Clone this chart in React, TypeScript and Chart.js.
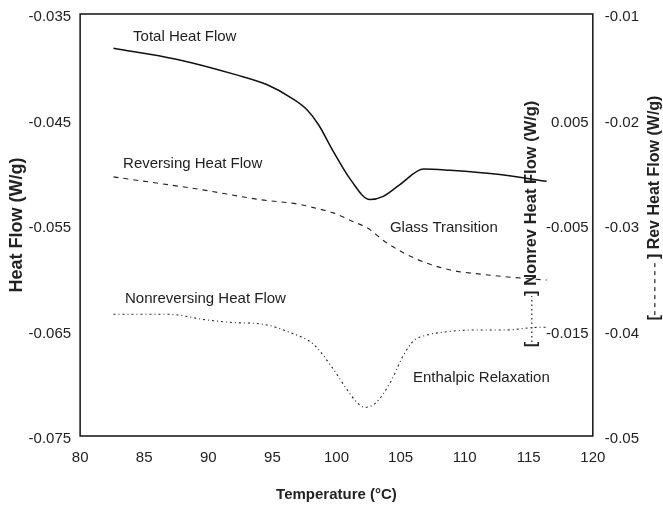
import React, { useEffect, useRef } from "react";
import { Chart, registerables } from "chart.js";
Chart.register(...registerables);

const FONT = '"Liberation Sans", Arial, sans-serif';

// Temperature (°C) samples and values
const totalTemp = [82.6, 87.5, 92.2, 94.6, 96.5, 97.7, 98.6, 99.75, 101.1, 102.6, 103.65, 104.95, 106.8, 108.85, 112.75, 116.4];
const totalHeatFlow = [-0.03824, -0.03928, -0.04077, -0.04171, -0.04297, -0.04408, -0.0455, -0.04802, -0.0507, -0.05259, -0.05228, -0.05117, -0.04969, -0.04982, -0.05022, -0.05086];

const revTemp = [82.6, 89.4, 94.0, 97.2, 98.2, 99.75, 101.4, 102.4, 103.9, 106.3, 108.9, 111.4, 114.0, 116.4];
const revHeatFlow = [-0.02544, -0.02664, -0.02759, -0.02806, -0.02835, -0.02885, -0.02973, -0.03026, -0.03168, -0.03326, -0.03427, -0.03468, -0.03499, -0.03522];

const nonrevTemp = [82.6, 86.8, 89.9, 92.0, 94.3, 96.4, 98.2, 99.75, 100.8, 101.6, 102.2, 103.1, 104.2, 105.2, 106.0, 107.0, 108.1, 110.7, 113.3, 115.3, 116.4];
const nonrevHeatFlow = [-0.01346, -0.01346, -0.014, -0.01425, -0.01441, -0.0152, -0.0163, -0.01866, -0.02056, -0.02182, -0.02228, -0.02182, -0.01992, -0.01741, -0.01599, -0.01545, -0.01519, -0.01495, -0.01495, -0.01472, -0.01469];

const xTicks = [80, 85, 90, 95, 100, 105, 110, 115, 120];
const leftTicks = [-0.075, -0.065, -0.055, -0.045, -0.035];
const nonrevTickLabels = ["-0.015", "-0.005", "0.005"];
const revTicks = [-0.05, -0.04, -0.03, -0.02, -0.01];

const annotationTexts = ["Total Heat Flow", "Reversing Heat Flow", "Nonreversing Heat Flow", "Glass Transition", "Enthalpic Relaxation"];
const annotationT = [84.13, 83.35, 83.5, 104.17, 105.97];
const annotationV = [-0.03717, -0.04918, -0.06204, -0.05524, -0.06951];

const toXY = (xs: number[], ys: number[]) => xs.map((x, i) => ({ x, y: ys[i] }));

function drawRotatedTitle(ctx: CanvasRenderingContext2D, cx: number, cy: number, size: number, text: string, dash: number[], len: number) {
  ctx.save();
  ctx.translate(cx, cy);
  ctx.rotate(-Math.PI / 2);
  ctx.font = `bold ${size}px ${FONT}`;
  ctx.fillStyle = "#222";
  ctx.strokeStyle = "#222";
  ctx.textBaseline = "middle";
  ctx.textAlign = "left";
  const wo = ctx.measureText("[").width;
  const wc = ctx.measureText("]").width;
  const gap = ctx.measureText(" ").width;
  const wt = ctx.measureText(text).width;
  const total = wo + len + wc + gap + wt;
  let x = -total / 2;
  ctx.fillText("[", x, 0);
  x += wo;
  ctx.beginPath();
  ctx.lineWidth = 1.2;
  ctx.setLineDash(dash);
  ctx.moveTo(x, 0);
  ctx.lineTo(x + len, 0);
  ctx.stroke();
  ctx.setLineDash([]);
  x += len;
  ctx.fillText("]", x, 0);
  x += wc + gap;
  ctx.fillText(text, x, 0);
  ctx.restore();
}

const decorPlugin = {
  id: "decor",
  afterDraw(chart: any) {
    const { ctx, chartArea, scales } = chart;
    ctx.save();
    ctx.strokeStyle = "#111";
    ctx.lineWidth = 1.5;
    ctx.strokeRect(chartArea.left, chartArea.top, chartArea.right - chartArea.left, chartArea.bottom - chartArea.top);
    ctx.font = `15px ${FONT}`;
    ctx.fillStyle = "#222";
    ctx.textAlign = "left";
    ctx.textBaseline = "middle";
    annotationTexts.forEach((t, i) => {
      ctx.fillText(t, scales.x.getPixelForValue(annotationT[i]), scales.y.getPixelForValue(annotationV[i]));
    });
    ctx.restore();
    const midY = (chartArea.top + chartArea.bottom) / 2;
    drawRotatedTitle(ctx, chartArea.right - 61, midY - 1, 16.5, "Nonrev Heat Flow (W/g)", [1.5, 3], 46);
    drawRotatedTitle(ctx, chartArea.right + 62, midY - 17, 16, "Rev Heat Flow (W/g)", [4, 4], 56);
  },
};

export default function App() {
  const ref = useRef<HTMLCanvasElement>(null);
  useEffect(() => {
    if (!ref.current) return;
    const tickFont = { family: FONT, size: 15 };
    const vTickFont = { family: FONT, size: 15, lineHeight: 0.1 };
    const chart = new Chart(ref.current, {
      type: "line",
      data: {
        datasets: [
          {
            label: "Total Heat Flow",
            data: toXY(totalTemp, totalHeatFlow),
            yAxisID: "y",
            borderColor: "#111",
            borderWidth: 1.5,
            pointRadius: 0,
            cubicInterpolationMode: "monotone",
          },
          {
            label: "Reversing Heat Flow",
            data: toXY(revTemp, revHeatFlow),
            yAxisID: "yRev",
            borderColor: "#222",
            borderWidth: 1.1,
            borderDash: [5, 5],
            pointRadius: 0,
            cubicInterpolationMode: "monotone",
          },
          {
            label: "Nonreversing Heat Flow",
            data: toXY(nonrevTemp, nonrevHeatFlow),
            yAxisID: "yNon",
            borderColor: "#222",
            borderWidth: 1.1,
            borderDash: [2, 3, 1, 3],
            pointRadius: 0,
            cubicInterpolationMode: "monotone",
          },
        ],
      },
      options: {
        animation: false,
        responsive: false,
        layout: { padding: { left: 0, right: 12, top: 14, bottom: 2 } },
        plugins: { legend: { display: false }, tooltip: { enabled: false } },
        scales: {
          x: {
            type: "linear",
            min: xTicks[0],
            max: xTicks[xTicks.length - 1],
            afterBuildTicks: (s: any) => { s.ticks = xTicks.map((v) => ({ value: v })); },
            grid: { display: false, drawTicks: false, tickLength: 0 },
            border: { display: false },
            ticks: { font: tickFont, color: "#222", padding: 13, maxRotation: 0 },
            title: { display: true, text: "Temperature (°C)", font: { family: FONT, size: 15, weight: "bold" }, color: "#222", padding: { top: 6, bottom: 2 } },
          },
          y: {
            position: "left",
            min: leftTicks[0],
            max: leftTicks[leftTicks.length - 1],
            afterBuildTicks: (s: any) => { s.ticks = leftTicks.map((v) => ({ value: v })); },
            grid: { display: false, drawTicks: false, tickLength: 0 },
            border: { display: false },
            ticks: { font: vTickFont, color: "#222", padding: 9, labelOffset: 3, callback: (v: any) => Number(v).toFixed(3) },
            title: { display: true, text: "Heat Flow (W/g)", font: { family: FONT, size: 18, weight: "bold" }, color: "#222", padding: { top: 6, bottom: -8 } },
          },
          yNon: {
            position: "right",
            weight: 0,
            min: -0.025,
            max: 0.015,
            afterBuildTicks: (s: any) => { s.ticks = nonrevTickLabels.map((v) => ({ value: Number(v) })); },
            grid: { display: false, drawTicks: false, tickLength: 0 },
            border: { display: false },
            ticks: { mirror: true, padding: 0, labelOffset: 3, font: vTickFont, color: "#222", callback: (v: any) => Number(v).toFixed(3) + " " },
          },
          yRev: {
            position: "right",
            weight: 1,
            min: revTicks[0],
            max: revTicks[revTicks.length - 1],
            afterBuildTicks: (s: any) => { s.ticks = revTicks.map((v) => ({ value: v })); },
            grid: { display: false, drawTicks: false, tickLength: 0 },
            border: { display: false },
            ticks: { font: vTickFont, color: "#222", padding: 12, labelOffset: 3, callback: (v: any) => Number(v).toFixed(2) },
          },
        },
      } as any,
      plugins: [decorPlugin],
    });
    return () => chart.destroy();
  }, []);
  return (
    <div style={{ position: "absolute", left: 0, top: 0, width: 663, height: 508, background: "#fff" }}>
      <canvas ref={ref} width={663} height={508} />
    </div>
  );
}
